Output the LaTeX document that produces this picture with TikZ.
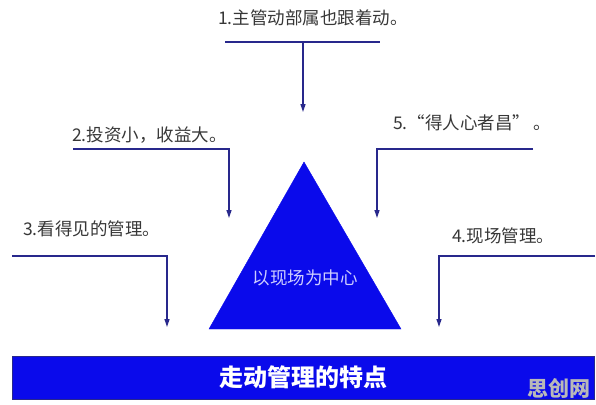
\documentclass[tikz,border=0pt]{standalone}
\usepackage{fontspec}
\setmainfont{Noto Sans CJK SC}
\usetikzlibrary{arrows.meta}

\definecolor{linenavy}{RGB}{40,40,140}
\definecolor{fillblue}{RGB}{10,10,235}
\definecolor{textgray}{RGB}{55,55,55}
\definecolor{palelilac}{RGB}{205,205,255}

\begin{document}
\begin{tikzpicture}[x=1pt, y=-1pt,
    feature/.style={anchor=west, inner sep=0pt, text=textgray, font=\fontsize{17.5}{20}\selectfont},
    guide/.style={color=linenavy, line width=1.3pt},
    pointer/.style={guide, -{Triangle[width=5pt, length=8pt]}}]
\useasboundingbox (0,0) rectangle (596,404);

% Central triangle
\filldraw[fill=fillblue, draw=fillblue] (304,162) -- (209,329) -- (401,329) -- cycle;
\node[inner sep=0pt, text=palelilac, font=\fontsize{17.5}{20}\selectfont] (core) at (305,278) {以现场为中心};

% Bottom bar
\node[draw=linenavy, fill=fillblue, line width=0.8pt, minimum width=582pt, minimum height=43pt,
      inner sep=0pt, text=white, font=\fontsize{24}{28}\selectfont\bfseries] (bar) at (303,377.5) {走动管理的特点};

% Feature labels
\node[feature] (f1) at (218,18) {1.主管动部属也跟着动。};
\node[feature] (f2) at (72,135) {2.投资小，收益大。};
\node[feature] (f3) at (23,229) {3.看得见的管理。};
\node[feature] (f4) at (452,236) {4.现场管理。};
\node[feature] (f5) at (393,123) {5.“得人心者昌”\,。};

% Line ends
\coordinate (u1a) at (225,42);  \coordinate (u1b) at (380,42);
\coordinate (u1m) at (303,42);  \coordinate (p1) at (303,112);
\coordinate (u2a) at (73,149);  \coordinate (u2b) at (229,149); \coordinate (p2) at (229,218);
\coordinate (u5a) at (533,149); \coordinate (u5b) at (377,149); \coordinate (p5) at (377,218);
\coordinate (u3a) at (12,256);  \coordinate (u3b) at (167,256); \coordinate (p3) at (167,327);
\coordinate (u4a) at (595,256); \coordinate (u4b) at (439,256); \coordinate (p4) at (439,327);

% Underlines and arrows
\draw[guide] (u1a) -- (u1b);
\draw[pointer] (u1m) -- (p1);
\foreach \k in {2,3,4,5} {
    \draw[pointer] (u\k a) -- (u\k b) -- (p\k);
}

% Watermark
\node[inner sep=0pt, text=gray!55, font=\fontsize{21}{24}\selectfont\bfseries] (mark) at (559,388) {思创网};
\end{tikzpicture}
\end{document}
